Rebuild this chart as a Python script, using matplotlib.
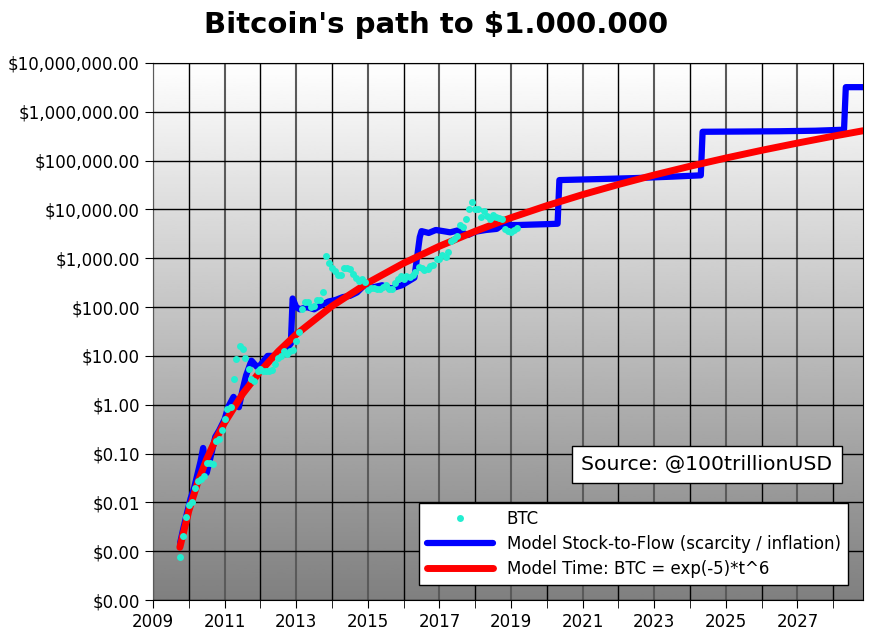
#!/usr/bin/python
# -*- coding: utf-8 -*-

import numpy as np
import matplotlib
matplotlib.use('Agg')
import matplotlib.pyplot as plt
from matplotlib.ticker import FuncFormatter, FixedLocator

###############################################################################
# Data
###############################################################################
btcYear = [
    2009.75, 2009.83, 2009.92,
    2010.00, 2010.08, 2010.17, 2010.25, 2010.33, 2010.42, 2010.50, 2010.58,
    2010.67, 2010.75, 2010.83, 2010.92,
    2011.00, 2011.08, 2011.17, 2011.25, 2011.33, 2011.42, 2011.50, 2011.58,
    2011.67, 2011.75, 2011.83, 2011.92,
    2012.00, 2012.08, 2012.17, 2012.25, 2012.33, 2012.42, 2012.50, 2012.58,
    2012.67, 2012.75, 2012.83, 2012.92,
    2013.00, 2013.08, 2013.17, 2013.25, 2013.33, 2013.42, 2013.50, 2013.58,
    2013.67, 2013.75, 2013.83, 2013.92,
    2014.00, 2014.08, 2014.17, 2014.25, 2014.33, 2014.42, 2014.50, 2014.58,
    2014.67, 2014.75, 2014.83, 2014.92,
    2015.00, 2015.08, 2015.17, 2015.25, 2015.33, 2015.42, 2015.50, 2015.58,
    2015.67, 2015.75, 2015.83, 2015.92,
    2016.00, 2016.08, 2016.17, 2016.25, 2016.33, 2016.42, 2016.50, 2016.58,
    2016.67, 2016.75, 2016.83, 2016.92,
    2017.00, 2017.08, 2017.17, 2017.25, 2017.33, 2017.42, 2017.50, 2017.58,
    2017.67, 2017.75, 2017.83, 2017.92,
    2018.00, 2018.08, 2018.17, 2018.25, 2018.33, 2018.42, 2018.50, 2018.58,
    2018.67, 2018.75, 2018.83, 2018.92,
    2019.00, 2019.08, 2019.17,
]
btcPrice = [
    0.00076, 0.002, 0.005,
    0.009, 0.01, 0.02, 0.028, 0.03, 0.035, 0.063, 0.065,
    0.06, 0.18, 0.2, 0.3,
    0.5, 0.8, 0.9, 3.3, 8.5, 16, 14, 9,
    5.3, 3.3, 3.1, 4.9,
    5.5, 4.9, 4.9, 5.0, 5.1, 6.7, 9, 10,
    12.4, 11, 12.5, 13.4,
    20, 31, 90, 130, 128, 100, 105, 140,
    140, 200, 1100, 800,
    620, 560, 460, 450, 620, 640, 590, 480,
    390, 340, 380, 320,
    220, 250, 245, 236, 230, 260, 285, 230,
    237, 314, 378, 430,
    370, 437, 416, 448, 531, 673, 624, 575,
    609, 700, 742, 963,
    970, 1190, 1080, 1350, 2300, 2480, 2875, 4700,
    4340, 6470, 10200, 14000,
    10200, 10300, 6900, 9200, 7500, 6400, 7700, 7000,
    6600, 6300, 4000, 3700,
    3450, 3800, 4100,
]

s2fYear = [
    2009.76, 2009.85, 2009.95, 2010.05, 2010.15, 2010.25, 2010.33, 2010.40,
    2010.50, 2010.60, 2010.74, 2010.85, 2011.00, 2011.10, 2011.25, 2011.40,
    2011.50, 2011.60, 2011.75, 2011.90, 2012.00, 2012.20, 2012.35, 2012.50,
    2012.70, 2012.85, 2012.90, 2013.00, 2013.10, 2013.30, 2013.50, 2013.70,
    2013.90, 2014.10, 2014.30, 2014.50, 2014.70, 2014.90, 2015.10, 2015.40,
    2015.65, 2015.95, 2016.30, 2016.45, 2016.50, 2016.70, 2016.90, 2017.10,
    2017.30, 2017.50, 2017.80, 2018.00, 2018.30, 2018.60, 2018.75, 2018.90,
    2019.20, 2019.60, 2020.00, 2020.30, 2020.35, 2021.50, 2022.50, 2023.50,
    2024.30, 2024.35, 2025.50, 2026.50, 2027.50, 2028.30, 2028.35, 2028.83,
]
s2fPrice = [
    0.0015, 0.003, 0.006, 0.012, 0.02, 0.04, 0.07, 0.13,
    0.04, 0.08, 0.22, 0.3, 0.5, 0.9, 1.45, 0.89,
    2, 4, 8, 6, 6.5, 10, 10, 11,
    13, 18, 150, 100, 90, 100, 90, 110,
    130, 140, 160, 170, 200, 280, 250, 280,
    240, 280, 400, 2700, 3600, 3300, 3800, 3600,
    3400, 3700, 3000, 3500, 3800, 4000, 4800, 4800,
    4800, 4900, 5000, 5100, 40000, 42000, 44000, 47000,
    50000, 390000, 395000, 400000, 410000, 430000, 3200000, 3200000,
]

timeYear = [
    2009.75, 2010.00, 2010.25, 2010.50, 2010.75, 2011.00, 2011.50, 2012.00,
    2012.50, 2013.00, 2014.00, 2015.00, 2016.00, 2017.00, 2018.00, 2019.00,
    2020.00, 2021.00, 2022.00, 2023.00, 2024.00, 2025.00, 2026.00, 2027.00,
    2028.00, 2028.83,
]
timePrice = [
    0.0012, 0.0067, 0.0257, 0.077, 0.193, 0.43, 1.65, 4.9,
    12.4, 27.6, 105, 314, 793, 1766, 3580, 6770,
    11950, 20140, 32500, 50800, 76800, 113000, 162700, 229000,
    317000, 409000,
]

majorYears = list(range(2009, 2029, 2))
minorYears = list(range(2010, 2029, 2))
yTicks = [1e-4, 1e-3, 1e-2, 1e-1, 1, 10, 100, 1e3, 1e4, 1e5, 1e6, 1e7]

###############################################################################
# Figure
###############################################################################
plt.rcParams['font.family'] = ['DejaVu Sans']
fig = plt.figure(figsize=(8.72, 6.43), dpi=100)
ax = fig.add_axes([153/872, 1-600/643, 710/872, 537/643])
ax.set_yscale('log')
ax.set_xlim(2009.0, 2028.83)
ax.set_ylim(1e-4, 1e7)

# gradient background
grad = np.linspace(0.5, 1.0, 256).reshape(-1, 1)
ax.imshow(
        grad, cmap='gray', vmin=0, vmax=1, origin='lower', aspect='auto',
        extent=[0, 1, 0, 1], transform=ax.transAxes, zorder=0
    )

# grid
ax.xaxis.set_major_locator(FixedLocator(majorYears))
ax.xaxis.set_minor_locator(FixedLocator(minorYears))
ax.xaxis.set_major_formatter(FuncFormatter(lambda v, p: '{:d}'.format(int(round(v)))))
ax.yaxis.set_major_locator(FixedLocator(yTicks))
ax.yaxis.set_minor_locator(FixedLocator([]))
ax.yaxis.set_major_formatter(FuncFormatter(lambda v, p: '${:,.2f}'.format(v)))
ax.grid(True, which='major', axis='x', color='#5a5a5a', lw=1.5, zorder=1)
ax.grid(True, which='minor', axis='x', color='black', lw=1.0, zorder=1)
ax.grid(True, which='major', axis='y', color='black', lw=1.0, zorder=1)
ax.set_axisbelow(False)
ax.tick_params(which='both', direction='out', length=6, labelsize=12)

# series
lS2F, = ax.plot(
        s2fYear, s2fPrice, color='#0000FF', lw=4.5, zorder=3,
        solid_capstyle='round', solid_joinstyle='round',
        label='Model Stock-to-Flow (scarcity / inflation)'
    )
lTime, = ax.plot(
        timeYear, timePrice, color='#FF0000', lw=5, zorder=4,
        solid_capstyle='round', solid_joinstyle='round',
        label='Model Time: BTC = exp(-5)*t^6'
    )
lBTC, = ax.plot(
        btcYear, btcPrice, ls='none', marker='o', ms=5, mew=0,
        color='#22EED0', zorder=5, label='BTC'
    )

leg = ax.legend(
        handles=[lBTC, lS2F, lTime], loc='lower right', fontsize=12,
        fancybox=False, framealpha=1, edgecolor='black', borderaxespad=0.9,
        handlelength=4.0, borderpad=0.45, labelspacing=0.4
    )
leg.set_zorder(10)

ax.text(
        0.6035, 0.252, 'Source: @100trillionUSD', transform=ax.transAxes,
        fontsize=14.7, va='center', ha='left', zorder=10,
        bbox=dict(boxstyle='square,pad=0.45', fc='white', ec='black')
    )

fig.suptitle(
        "Bitcoin's path to $1.000.000", x=0.5, y=0.983,
        fontsize=21, fontweight='bold'
    )

fig.savefig('out.png', dpi=100)
